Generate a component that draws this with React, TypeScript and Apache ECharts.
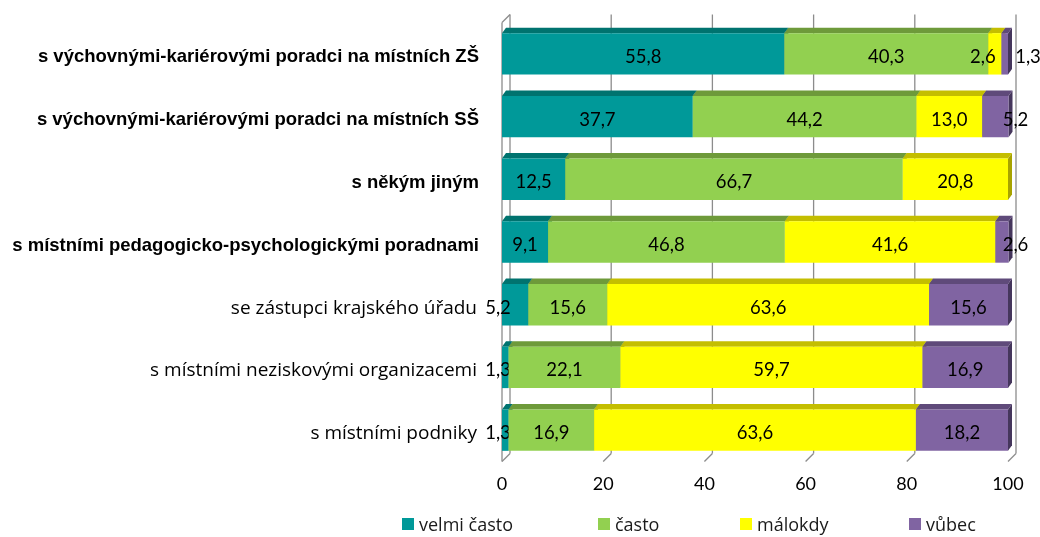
import React, { useEffect, useRef } from "react";
import * as echarts from "echarts";

const categories = [
  "s výchovnými-kariérovými poradci na místních ZŠ",
  "s výchovnými-kariérovými poradci na místních SŠ",
  "s někým jiným",
  "s místními pedagogicko-psychologickými poradnami",
  "se zástupci krajského úřadu",
  "s místními neziskovými organizacemi",
  "s místními podniky",
];
const emphasized = categories.slice(0, 4);

const seriesNames = ["velmi často", "často", "málokdy", "vůbec"];
const velmiCasto = [55.8, 37.7, 12.5, 9.1, 5.2, 1.3, 1.3];
const casto = [40.3, 44.2, 66.7, 46.8, 15.6, 22.1, 16.9];
const malokdy = [2.6, 13.0, 20.8, 41.6, 63.6, 59.7, 63.6];
const vubec = [1.3, 5.2, 0, 2.6, 15.6, 16.9, 18.2];
const xTicks = [0, 20, 40, 60, 80, 100];

const frontColors = ["#009999", "#92D050", "#FFFF00", "#8064A2"];
const topColors = ["#00736F", "#6E9A3A", "#C4BE00", "#5F4A7A"];
const sideColors = ["#005F5C", "#5C8030", "#A8A300", "#45365C"];

const DX = 4;
const DY = 5.5;
const WALL = 8;
const VALUE_FONT = "Lato";
const CAT_FONT = "Open Sans";

const fmt = (v: number) => v.toFixed(1).replace(".", ",");

export default function App() {
  const ref = useRef<HTMLDivElement>(null);
  useEffect(() => {
    if (!ref.current) return;
    const chart = echarts.init(ref.current, undefined, { renderer: "svg" });
    const all = [velmiCasto, casto, malokdy, vubec];
    const stacked = all.map((vals, s) =>
      vals.map((v, i) => {
        let start = 0;
        for (let k = 0; k < s; k++) start += all[k][i];
        return [start, start + v, i, v];
      })
    );

    const barSeries = stacked.map((data, s) => ({
      type: "custom",
      name: seriesNames[s],
      itemStyle: { color: frontColors[s] },
      encode: { x: [0, 1], y: 2 },
      data,
      z: 5 + s,
      renderItem: (params: any, api: any) => {
        const v = api.value(3);
        if (!v) return { type: "group", children: [] };
        const a = api.coord([api.value(0), api.value(2)]);
        const b = api.coord([api.value(1), api.value(2)]);
        const band = api.size([0, 1])[1];
        const h = band * 0.66;
        const yc = a[1];
        const y0 = yc - h / 2;
        const y1 = yc + h / 2;
        const x0 = a[0];
        const x1 = b[0];
        const w = x1 - x0;
        let cx = (x0 + x1) / 2;
        if (s === 0 && v < 6) cx = x0 - 4;
        else if (s === 3 && w < 30) cx = w < 8 ? x1 + 20 : x1 + 7;
        else if (w < 24) cx = cx - 12;
        return {
          type: "group",
          children: [
            {
              type: "polygon",
              shape: { points: [[x1, y0], [x1 + DX, y0 - DY], [x1 + DX, y1 - DY], [x1, y1]] },
              style: { fill: sideColors[s] },
            },
            {
              type: "polygon",
              shape: { points: [[x0, y0], [x1, y0], [x1 + DX, y0 - DY], [x0 + DX, y0 - DY]] },
              style: { fill: topColors[s] },
            },
            {
              type: "rect",
              shape: { x: x0, y: y0, width: w, height: h },
              style: { fill: frontColors[s] },
            },
            {
              type: "text",
              x: cx,
              y: yc + 2,
              z2: 10,
              style: {
                text: fmt(v),
                align: "center",
                verticalAlign: "middle",
                fontSize: 18.5,
                fontFamily: VALUE_FONT,
                fill: "#000",
              },
            },
          ],
        };
      },
    }));

    const frameSeries = {
      type: "custom",
      name: "frame",
      silent: true,
      z: 1,
      encode: { x: 0, y: 1 },
      data: xTicks.map((t) => [t, 0]),
      renderItem: (params: any, api: any) => {
        const t = api.value(0);
        const fx = api.coord([t, 0])[0];
        const cs = params.coordSys;
        const top = cs.y;
        const bottom = cs.y + cs.height;
        const line = { stroke: "#8C8C8C", lineWidth: 1.3 };
        const children: any[] = [
          { type: "line", shape: { x1: fx + WALL, y1: top - WALL, x2: fx + WALL, y2: bottom - WALL }, style: line },
          { type: "line", shape: { x1: fx + WALL, y1: bottom - WALL, x2: fx, y2: bottom }, style: line },
        ];
        if (t === xTicks[0]) {
          children.push({ type: "line", shape: { x1: fx, y1: top, x2: fx, y2: bottom }, style: line });
          children.push({ type: "line", shape: { x1: fx, y1: top, x2: fx + WALL, y2: top - WALL }, style: line });
        }
        return { type: "group", children };
      },
    };

    const legends = seriesNames.map((n, i) => ({
      data: [n],
      left: [402, 598, 740, 909][i],
      top: 515,
      itemWidth: 12,
      itemHeight: 12,
      icon: "rect",
      itemGap: 6,
      padding: 0,
      textStyle: { fontSize: 18, fontFamily: CAT_FONT, color: "#1a1a1a" },
    }));

    chart.setOption({
      animation: false,
      grid: { left: 502, right: 32, top: 22.5, bottom: 75.5 },
      legend: legends,
      xAxis: {
        type: "value",
        min: 0,
        max: 100,
        interval: 20,
        axisLine: { show: false },
        axisTick: { show: false },
        splitLine: { show: false },
        axisLabel: { margin: 12, fontSize: 18, fontFamily: VALUE_FONT, color: "#000" },
      },
      yAxis: {
        type: "category",
        inverse: true,
        data: categories,
        axisLine: { show: false },
        axisTick: { show: false },
        axisLabel: {
          margin: 23,
          formatter: (v: string) => (emphasized.includes(v) ? `{b|${v}}` : `{n|${v}}`),
          rich: {
            b: { fontFamily: "Liberation Sans", fontWeight: "bold", fontSize: 18.5, color: "#000", padding: [4, 0, 0, 0] },
            n: { fontFamily: CAT_FONT, fontSize: 19, color: "#000", padding: [4, 2, 0, 0] },
          },
        },
      },
      series: [frameSeries, ...barSeries],
    });
    return () => chart.dispose();
  }, []);
  return <div ref={ref} style={{ position: "fixed", left: 0, top: 0, width: 1040, height: 537 }} />;
}
